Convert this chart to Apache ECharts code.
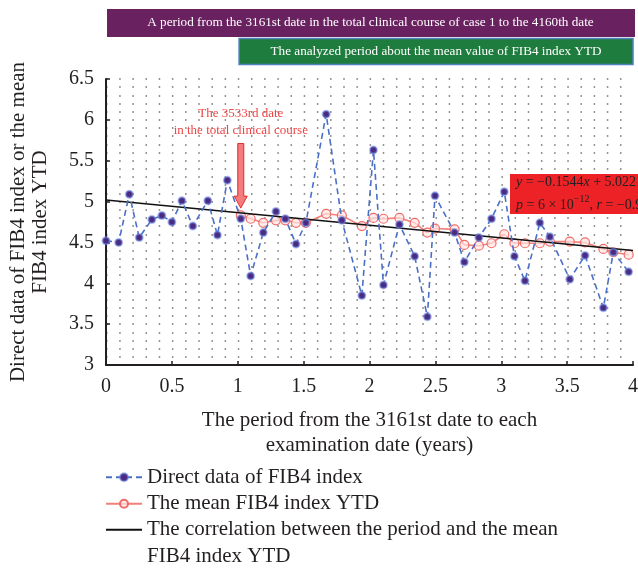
<!DOCTYPE html>
<html>
<head>
<meta charset="utf-8">
<script src="https://cdn.jsdelivr.net/npm/echarts@6/dist/echarts.min.js"></script>
<style>
html, body { margin: 0; padding: 0; background: #fff; }
#chart { width: 638px; height: 569px; }
</style>
</head>
<body>
<div id="chart"></div>
<script>
// period from the 3161st date (years) and FIB4 values
const directX = [0, 0.096, 0.177, 0.252, 0.348, 0.424, 0.5, 0.576, 0.659, 0.773, 0.846, 0.921,
  1.023, 1.098, 1.194, 1.29, 1.361, 1.442, 1.517, 1.671, 1.79, 1.942, 2.03, 2.106, 2.227, 2.343,
  2.439, 2.497, 2.646, 2.72, 2.83, 2.926, 3.023, 3.1, 3.18, 3.293, 3.369, 3.52, 3.636, 3.775, 3.851, 3.967];
const directY = [4.52, 4.50, 5.09, 4.56, 4.78, 4.83, 4.75, 5.01, 4.70, 5.01, 4.59, 5.26,
  4.79, 4.09, 4.62, 4.88, 4.79, 4.48, 4.74, 6.07, 4.77, 3.85, 5.63, 3.98, 4.72, 4.33,
  3.59, 5.07, 4.62, 4.26, 4.56, 4.79, 5.12, 4.33, 4.03, 4.74, 4.57, 4.05, 4.34, 3.70, 4.38, 4.14];
// mean YTD starts at the 3533rd date
const meanX = directX.slice(12);
const meanY = [4.83, 4.79, 4.74, 4.77, 4.77, 4.74, 4.74, 4.85, 4.83, 4.70, 4.80, 4.79, 4.80, 4.74, 4.62,
  4.67, 4.66, 4.47, 4.46, 4.49, 4.60, 4.49, 4.49, 4.49, 4.51, 4.51, 4.50, 4.42, 4.38, 4.35];
// regression line end points
const fitX = [0, 4];
const fitY = [5.02, 4.40];

const names = ['Direct data of FIB4 index', 'The mean FIB4 index YTD',
  'The correlation between the period and the mean\nFIB4 index YTD'];

const font = '"Liberation Serif", "DejaVu Serif", serif';
const ink = '#231f20';
const zip = (xs, ys) => xs.map((x, i) => [x, ys[i]]);

const chart = echarts.init(document.getElementById('chart'));
chart.setOption({
  animation: false,
  textStyle: { fontFamily: font, color: ink },
  grid: { left: 106, right: 5, top: 79, bottom: 204, outerBoundsMode: 'none', containLabel: false },
  legend: [
    {
      data: [names[0], names[1]],
      orient: 'vertical', left: 105, top: 464, padding: 0, itemGap: 0,
      itemWidth: 36, itemHeight: 10,
      textStyle: { fontFamily: font, fontSize: 21, lineHeight: 26.5, color: ink }
    },
    {
      // empty first line keeps the icon level with the first text line
      data: [{ name: names[2], itemStyle: { opacity: 0 } }],
      formatter: (n) => '\n' + n,
      orient: 'vertical', left: 105, top: 490, padding: 0,
      itemWidth: 36, itemHeight: 10,
      textStyle: { fontFamily: font, fontSize: 21, lineHeight: 26.5, color: ink }
    }
  ],
  xAxis: {
    type: 'value', min: 0, max: 4, interval: 0.5,
    name: 'The period from the 3161st date to each\nexamination date (years)',
    nameLocation: 'middle', nameGap: 43,
    nameTextStyle: { fontFamily: font, fontSize: 21, lineHeight: 25, color: ink, verticalAlign: 'top' },
    axisLine: { onZero: false, lineStyle: { color: ink, width: 2 } },
    axisTick: { inside: true, length: 4, lineStyle: { color: ink, width: 1.5 } },
    axisLabel: { fontFamily: font, fontSize: 20, color: ink, margin: 12 },
    splitLine: { show: false }
  },
  yAxis: {
    type: 'value', min: 3, max: 6.5, interval: 0.5,
    name: 'Direct data of FIB4 index or the mean\nFIB4 index YTD',
    nameLocation: 'middle', nameGap: 55, nameRotate: 90,
    nameTextStyle: { fontFamily: font, fontSize: 21, lineHeight: 22, color: ink },
    axisLine: { show: true, lineStyle: { color: ink, width: 2 } },
    axisTick: { show: true, inside: true, length: 4, lineStyle: { color: ink, width: 1.5 } },
    axisLabel: { fontFamily: font, fontSize: 20, color: ink, margin: 12 },
    splitLine: { show: true, lineStyle: { color: '#6f6f6f', width: 1.5, type: [1.5, 11.68] } },
    minorTick: { show: false, splitNumber: 5 },
    minorSplitLine: { show: true, lineStyle: { color: '#6f6f6f', width: 1.5, type: [1.5, 11.68] } }
  },
  series: [
    {
      name: names[0], type: 'line', z: 4,
      data: zip(directX, directY),
      symbol: 'circle', symbolSize: 7,
      lineStyle: { color: '#4a6fc7', width: 1.6, type: [6, 4] },
      itemStyle: { color: '#4b2a80', borderColor: 'rgba(110,140,230,0.55)', borderWidth: 2 }
    },
    {
      name: names[1], type: 'line', z: 2,
      data: zip(meanX, meanY),
      symbol: 'circle', symbolSize: 9,
      lineStyle: { color: '#f37f7a', width: 1.6 },
      itemStyle: { color: 'rgba(255,228,226,0.7)', borderColor: '#f06c68', borderWidth: 1.2 }
    },
    {
      name: names[2], type: 'line', z: 3,
      data: zip(fitX, fitY),
      symbol: 'none',
      lineStyle: { color: '#111', width: 1.5 },
      itemStyle: { color: '#111' }
    }
  ]
});

// banners, arrow and text annotations placed from the axes
const px = (x, y) => chart.convertToPixel({ gridIndex: 0 }, [x, y]);
const left = px(0, 3)[0];
const right = px(4, 3)[0];
const greenLeft = px(1.01, 3)[0];
const ax = px(meanX[0], 3)[0];
const arrowTop = px(0, 5.71)[1];
const arrowTip = px(0, 4.92)[1];

chart.setOption({
  graphic: [
    { type: 'rect', shape: { x: left + 1, y: 9, width: right - left + 1, height: 28 }, style: { fill: '#6a2160' } },
    { type: 'text', style: { text: 'A period from the 3161st date in the total clinical course of case 1 to the 4160th date',
      x: (left + right) / 2 + 1, y: 23, align: 'center', verticalAlign: 'middle', fill: '#fff', fontSize: 13.2, fontFamily: font } },
    { type: 'rect', shape: { x: greenLeft, y: 38.5, width: right - greenLeft, height: 26 },
      style: { fill: '#1e7d3e', stroke: '#4f81bd', lineWidth: 1.5 } },
    { type: 'text', style: { text: 'The analyzed period about the mean value of FIB4 index YTD',
      x: (greenLeft + right) / 2, y: 51.5, align: 'center', verticalAlign: 'middle', fill: '#fff', fontSize: 13.2, fontFamily: font } },
    { type: 'text', z: 10, style: { text: 'The 3533rd date\nin the total clinical course',
      x: ax, y: 122, align: 'center', verticalAlign: 'middle', fill: '#ee4444', fontSize: 13, lineHeight: 17, fontFamily: font } },
    { type: 'polygon', z: 10, shape: { points: [
        [ax - 3, arrowTop], [ax + 3, arrowTop], [ax + 3, arrowTip - 12], [ax + 6.5, arrowTip - 12],
        [ax, arrowTip], [ax - 6.5, arrowTip - 12], [ax - 3, arrowTip - 12]] },
      style: { fill: '#f47c7c', stroke: '#e52b2b', lineWidth: 1 } },
    { type: 'rect', z: 10, shape: { x: 510, y: 174, width: 140, height: 40 }, style: { fill: '#ec2227' } },
    { type: 'text', z: 11, style: {
      text: '{i|y} = −0.1544{i|x} + 5.0221\n{i|p} = 6 × 10{s|−12}, {i|r} = −0.91',
      x: 516, y: 194, verticalAlign: 'middle', fill: ink, fontSize: 14, lineHeight: 23, fontFamily: font,
      rich: {
        i: { fontStyle: 'italic', fontSize: 14, fontFamily: font, fill: ink },
        s: { fontSize: 10, verticalAlign: 'top', padding: [0, 0, 8, 0], fontFamily: font, fill: ink }
      } } }
  ]
});
</script>
</body>
</html>
